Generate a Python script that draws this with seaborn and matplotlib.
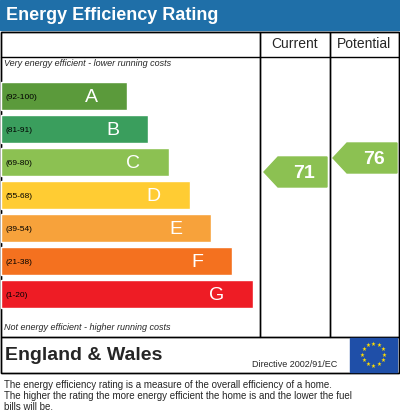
import matplotlib
matplotlib.use("Agg")
import matplotlib.pyplot as plt
import seaborn as sns
from matplotlib.patches import Polygon, Rectangle
import numpy as np

sns.set_style("white")
plt.rcParams['font.family'] = ['Liberation Sans', 'DejaVu Sans']

letters = ["A", "B", "C", "D", "E", "F", "G"]
ranges = ["(92-100)", "(81-91)", "(69-80)", "(55-68)", "(39-54)", "(21-38)", "(1-20)"]
lengths = [126, 147, 168, 189, 210, 231, 252]
colors = ["#5b9a3b", "#3a9e5d", "#8cc152", "#ffcc33", "#f7a23b", "#f4711f", "#ee1c25"]
current = 71
potential = 76

fig = plt.figure(figsize=(4.0, 4.19), dpi=100)
ax = fig.add_axes([0, 0, 1, 1])
ax.set_xlim(0, 400); ax.set_ylim(419, 0); ax.axis("off")

ax.add_patch(Rectangle((0, 0), 400, 30, color="#1f6fa8"))
ax.text(6, 15, "Energy Efficiency Rating", color="white", fontsize=13, fontweight="bold", va="center")
for (x, y, w, h) in [(1, 32, 398, 341), (1, 32, 259, 305), (260, 32, 70, 305), (330, 32, 69, 305), (1, 337, 398, 36)]:
    ax.add_patch(Rectangle((x, y), w, h, fill=False, lw=1, ec="black"))
ax.plot([1, 399], [57, 57], color="black", lw=1)
ax.text(295, 44, "Current", ha="center", va="center", fontsize=10)
ax.text(364, 44, "Potential", ha="center", va="center", fontsize=10)
ax.text(4, 64, "Very energy efficient - lower running costs", fontsize=6.5, style="italic", va="center")
ax.text(4, 327, "Not energy efficient - higher running costs", fontsize=6.5, style="italic", va="center")

ys = [96 + 33 * i for i in range(7)]
ax.barh(ys, lengths, height=28, left=1, color=colors)
for y, L, let, r in zip(ys, lengths, letters, ranges):
    ax.text(5, y + 1, r, fontsize=6, va="center", color="black")
    ax.text(L - 28, y + 1, let, fontsize=14, va="center", ha="right", color="white")

def arrow(x0, x1, yc, val):
    h = 15
    pts = [(x0, yc), (x0 + 14, yc - h), (x1, yc - h), (x1, yc + h), (x0 + 14, yc + h)]
    ax.add_patch(Polygon(pts, closed=True, color="#8cc152"))
    ax.text((x0 + 14 + x1) / 2 + 2, yc + 1, str(val), fontsize=14, fontweight="bold",
            color="white", ha="center", va="center")

arrow(264, 327, 172, current)
arrow(333, 397, 158, potential)

ax.text(5, 355, "England & Wales", fontsize=14, fontweight="bold", va="center")
ax.text(252, 364, "Directive 2002/91/EC", fontsize=6.5, va="center")
ax.add_patch(Rectangle((350, 338), 47, 34, color="#1f4fa8"))
for a in np.linspace(0, 2 * np.pi, 12, endpoint=False):
    ax.text(373.5 + 11 * np.cos(a), 355 + 11 * np.sin(a), "★", color="#ffdd00",
            fontsize=4, ha="center", va="center")

ax.text(4, 385, "The energy efficiency rating is a measure of the overall efficiency of a home.", fontsize=7, va="center")
ax.text(4, 396, "The higher the rating the more energy efficient the home is and the lower the fuel", fontsize=7, va="center")
ax.text(4, 407, "bills will be.", fontsize=7, va="center")

fig.savefig("out.png", dpi=100)
